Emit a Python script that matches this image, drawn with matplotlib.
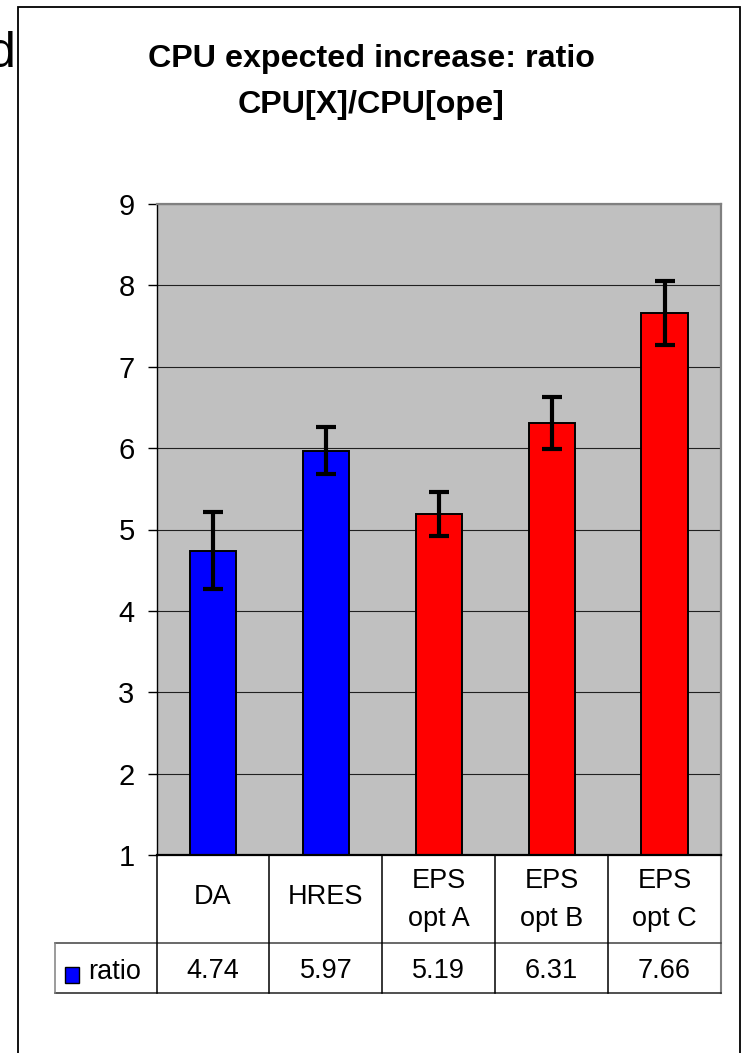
import matplotlib
matplotlib.use("Agg")
import matplotlib.pyplot as plt
import matplotlib.transforms as mtransforms
from matplotlib.patches import Rectangle
import numpy as np

plt.rcParams['font.family'] = ['Liberation Sans', 'DejaVu Sans']

# data
categories = ["DA", "HRES", "EPS\nopt A", "EPS\nopt B", "EPS\nopt C"]
ratio = [4.74, 5.97, 5.19, 6.31, 7.66]
ratio_err = [0.47, 0.29, 0.27, 0.32, 0.39]
bar_colors = ["#0000FF", "#0000FF", "#FF0000", "#FF0000", "#FF0000"]
series_name = "ratio"
yticks = [1, 2, 3, 4, 5, 6, 7, 8, 9]

W, H = 743, 1053
fig = plt.figure(figsize=(W / 100, H / 100), dpi=100)
fig.patch.set_facecolor("white")

def fx(px):
    return px / W

def fy(py):
    return 1 - py / H

# plot area in pixels
pl, pr, pt, pb = 156.5, 721.0, 204.0, 855.0
ax = fig.add_axes([fx(pl), fy(pb), fx(pr) - fx(pl), fy(pt) - fy(pb)])
ax.set_facecolor("#C0C0C0")

x = np.arange(len(categories))
ax.bar(x, ratio, width=0.41, color=bar_colors, edgecolor="black",
       linewidth=1.4, zorder=2)
ax.errorbar(x, ratio, yerr=ratio_err, fmt="none", ecolor="black",
            elinewidth=3, capsize=7, capthick=3, zorder=3)

ax.set_xlim(-0.5, len(categories) - 0.5)
ax.set_ylim(1, 9)
ax.set_yticks(yticks)
ax.set_xticks([])
ax.yaxis.grid(True, color="#202020", linewidth=0.8)
ax.set_axisbelow(True)
ax.tick_params(axis="y", direction="out", length=6.3, width=1,
               labelsize=21, pad=9.5, color="black")
for s in ["top", "right"]:
    ax.spines[s].set_color("#808080")
    ax.spines[s].set_linewidth(1.6)
ax.spines["left"].set_color("black")
ax.spines["left"].set_linewidth(1.0)
ax.spines["bottom"].set_color("black")
ax.spines["bottom"].set_linewidth(1.6)

# data table under the plot: x in data units, y in axes units
trans = mtransforms.blended_transform_factory(ax.transData, ax.transAxes)
ph = pb - pt
unit = (pr - pl) / len(categories)

def ay(py):
    return -(py - pb) / ph

def dx(px):
    return -0.5 + (px - pl) / unit

row1, row2 = ay(943.3), ay(993.3)
key_left = dx(55.3)
tfs = 19.5

for i in range(len(categories)):
    ax.plot([i - 0.5, i - 0.5], [0, row2], transform=trans, color="black",
            lw=1.1, clip_on=False, zorder=5)
ax.plot([4.5, 4.5], [0, row2], transform=trans, color="#808080", lw=1.5,
        clip_on=False)
ax.plot([key_left, 4.5], [row1, row1], transform=trans, color="#404040",
        lw=1.1, clip_on=False)
ax.plot([key_left, 4.5], [row2, row2], transform=trans, color="#202020",
        lw=1.1, clip_on=False)
ax.plot([key_left, key_left], [row1, row2], transform=trans, color="#808080",
        lw=1.1, clip_on=False)

for i, (lab, v) in enumerate(zip(categories, ratio)):
    lines = lab.split("\n")
    if len(lines) == 1:
        ax.text(i, ay(904.5), lines[0], transform=trans, ha="center",
                va="baseline", fontsize=tfs)
    else:
        for ln, base in zip(lines, [887.5, 926]):
            ax.text(i, ay(base), ln, transform=trans, ha="center",
                    va="baseline", fontsize=tfs)
    ax.text(i, ay(978), f"{v:.2f}", transform=trans, ha="center",
            va="baseline", fontsize=tfs)

# legend key in the table
ax.add_patch(Rectangle((dx(64.5), ay(982.5)), dx(79) - dx(64.5),
                       ay(967) - ay(982.5), transform=trans,
                       facecolor=bar_colors[0], edgecolor="black", lw=1.0,
                       clip_on=False))
ax.text(dx(88.5), ay(979), series_name, transform=trans, ha="left",
        va="baseline", fontsize=tfs)

# title
fig.text(fx(371), fy(66.7), "CPU expected increase: ratio", ha="center",
         va="baseline", fontsize=23.2, fontweight="bold")
fig.text(fx(371), fy(113.3), "CPU[X]/CPU[ope]", ha="center",
         va="baseline", fontsize=23.2, fontweight="bold")

# chart frame and slide text behind it
fig.add_artist(Rectangle((fx(17.5), -0.02), fx(739.5) - fx(17.5),
                         fy(6.5) + 0.02, transform=fig.transFigure,
                         fill=False, edgecolor="black", lw=1.3))
fig.text(fx(15.5), fy(67), "d", ha="right", va="baseline", fontsize=36)

fig.savefig("out.png", dpi=100)
